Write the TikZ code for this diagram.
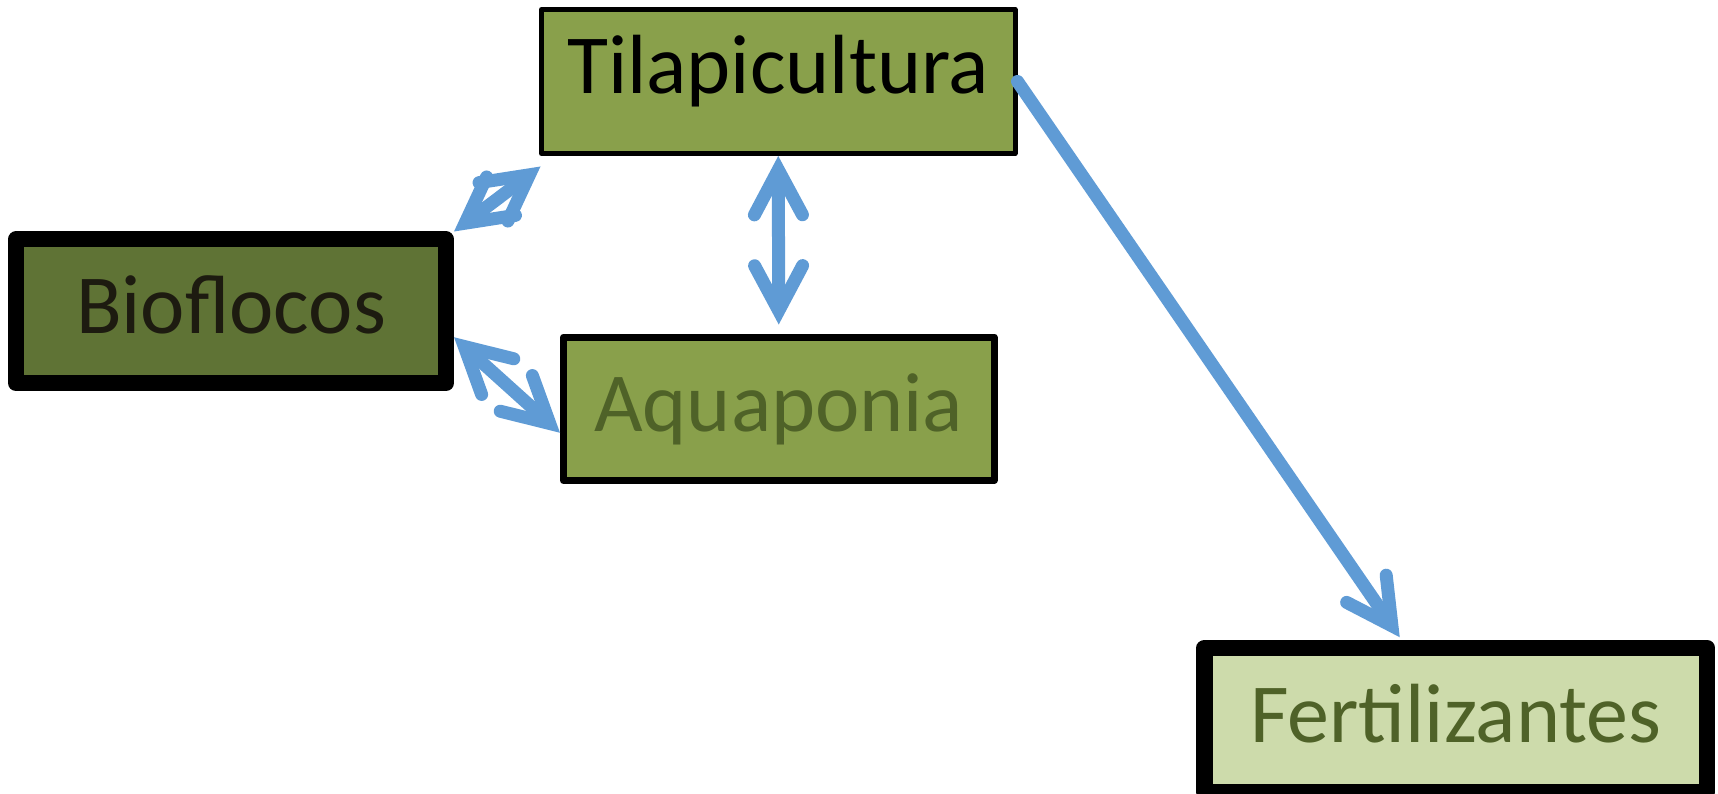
\documentclass[tikz,border=0pt]{standalone}
\usepackage{fontspec}
\setmainfont{Carlito}
\usetikzlibrary{arrows.meta}

\definecolor{olivemid}{HTML}{89A04B}
\definecolor{olivedark}{HTML}{5F7335}
\definecolor{olivelight}{HTML}{CDDBAB}
\definecolor{olivetext}{HTML}{4F6228}
\definecolor{nearblack}{HTML}{1D1B10}
\definecolor{linkblue}{HTML}{5F9BD5}

\tikzset{
  box/.style={draw=black, rectangle, line join=round, inner sep=0pt,
    font=\fontsize{84pt}{96pt}\selectfont, text height=60pt},
  % blue connector with a faint drop shadow
  link/.style={draw=linkblue, line width=13pt, line cap=round,
    preaction={draw=black, opacity=0.13,
      transform canvas={shift={(3pt,-3pt)}}}},
  barb/.tip={Straight Barb[length=45pt, width=48pt, line cap=round, line join=miter]},
  twoway/.style={link, barb-barb},
  oneway/.style={link, -barb},
}

\begin{document}
\begin{tikzpicture}[x=1pt, y=-1pt]
  \path[use as bounding box, clip] (0,0) rectangle (1718,794);

  % boxes
  \node[box, fill=olivemid, line width=5pt, text=black, text depth=35pt,
        minimum width=473.5pt, minimum height=144pt]
        (tilap) at (778.25,81.5) {Tilapicultura};
  \node[box, fill=olivedark, line width=16pt, text=nearblack, text depth=16pt,
        minimum width=430pt, minimum height=143.5pt]
        (biof) at (231,311.25) {Bioflocos};
  \node[box, fill=olivemid, line width=7pt, text=olivetext, text depth=14pt,
        minimum width=430.5pt, minimum height=143.5pt]
        (aqua) at (778.75,408.75) {Aquaponia};
  \node[box, fill=olivelight, line width=16.5pt, text=olivetext, text depth=16pt,
        minimum width=502.5pt, minimum height=144pt]
        (fert) at (1455.75,720) {Fertilizantes};

  % connectors
  \draw[twoway] (biof.north east) -- ([xshift=1.5pt,yshift=-10.5pt]tilap.south west);
  \draw[twoway] ([yshift=-26pt]biof.east) -- ([yshift=-24pt]aqua.west);
  \draw[twoway] (tilap.south) -- ([yshift=9pt]aqua.north);
  \draw[oneway] (tilap.east) -- ([xshift=203.5pt,yshift=2.5pt]fert.north west);
\end{tikzpicture}
\end{document}
